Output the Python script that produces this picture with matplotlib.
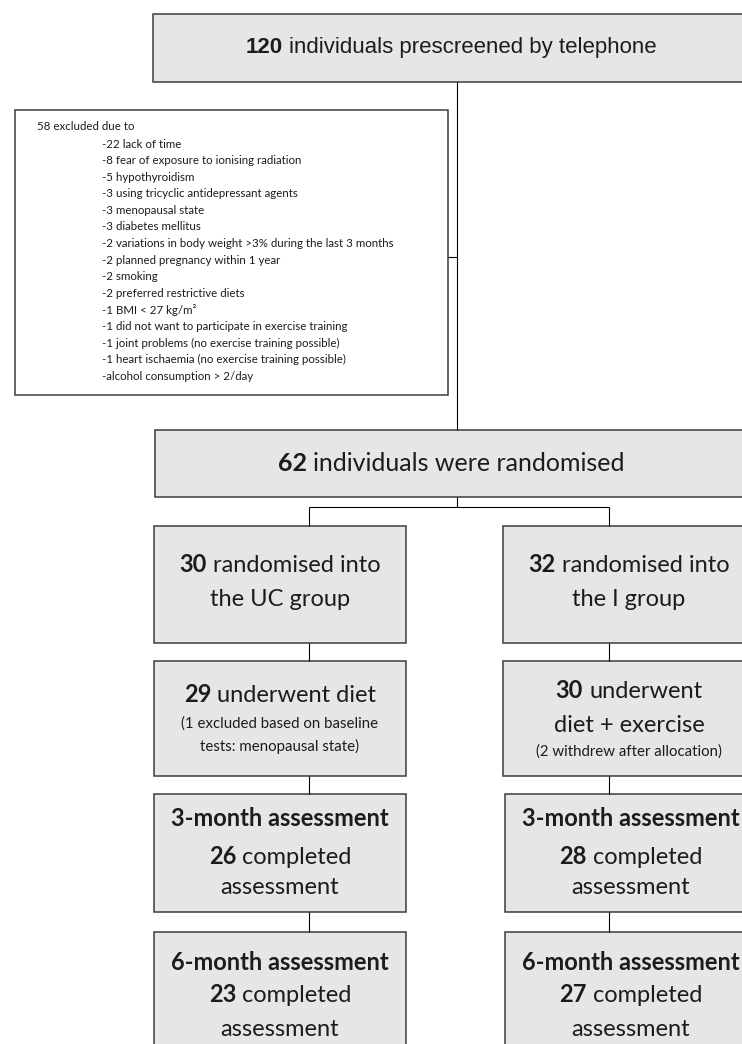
import matplotlib
matplotlib.use("Agg")
import matplotlib.pyplot as plt
from matplotlib.patches import Rectangle

# numbers from the flow diagram
n_prescreened = 120
n_excluded = 58
exclusion_counts = [22, 8, 5, 3, 3, 3, 2, 2, 2, 2, 1, 1, 1, 1, None]
exclusion_reasons = ['lack of time', 'fear of exposure to ionising radiation',
                     'hypothyroidism', 'using tricyclic antidepressant agents',
                     'menopausal state', 'diabetes mellitus',
                     'variations in body weight >3% during the last 3 months',
                     'planned pregnancy within 1 year', 'smoking',
                     'preferred restrictive diets', 'BMI < 27 kg/m²',
                     'did not want to participate in exercise training',
                     'joint problems (no exercise training possible)',
                     'heart ischaemia (no exercise training possible)',
                     'alcohol consumption > 2/day']
n_randomised = 62
groups = ['UC', 'I']
n_allocated = [30, 32]
n_started = [29, 30]
started_notes = [['(1 excluded based on baseline', 'tests: menopausal state)'],
                 ['(2 withdrew after allocation)']]
n_3month = [26, 28]
n_6month = [23, 27]

W, H = 742, 1044
fig = plt.figure(figsize=(W / 100, H / 100), dpi=100)
ax = fig.add_axes([0, 0, 1, 1])
ax.set_xlim(0, W)
ax.set_ylim(H, 0)
ax.axis('off')
rend = fig.canvas.get_renderer()

FILL = '#e6e6e6'
EDGE = '#3c3c3c'
TXT = '#1c1c1c'
CAL = ['Lato', 'DejaVu Sans']
ARI = ['Liberation Sans', 'DejaVu Sans']


def box(x0, y0, x1, y1, fc=FILL):
    ax.add_patch(Rectangle((x0, y0), x1 - x0, y1 - y0, fc=fc, ec=EDGE, lw=1.1))


def line(xs, ys):
    ax.plot(xs, ys, color='black', lw=0.8, solid_capstyle='butt')


def width(s, **kw):
    t = ax.text(0, 0, s, **kw)
    w = t.get_window_extent(rend).width
    t.remove()
    return w


def mixed(xc, y, bold, rest, size, family=CAL):
    # one centred line: bold number followed by regular text
    kw = dict(fontsize=size, family=family, color=TXT, va='baseline', ha='left')
    yb = y + 0.36 * size * 100 / 72
    wb = width(bold, fontweight='bold', **kw) if bold else 0
    wr = width(rest, **kw) if rest else 0
    gap = width('a a', **kw) - width('aa', **kw) if bold and rest else 0
    x = xc - (wb + gap + wr) / 2
    if bold:
        ax.text(x, yb, bold, fontweight='bold', **kw)
    if rest:
        ax.text(x + wb + gap, yb, rest, **kw)


BIG = 17
SMALL = 10.8
EXCL = 8.3

# top box
box(152.5, 14, 752, 82)
mixed(451, 45, str(n_prescreened), 'individuals prescreened by telephone', 16, ARI)

# exclusion box
box(15, 110, 448, 395, fc='white')
ax.text(37, 127, f'{n_excluded} excluded due to', fontsize=EXCL, family=CAL,
        color=TXT, va='center')
for i, (c, r) in enumerate(zip(exclusion_counts, exclusion_reasons)):
    s = f'-{c} {r}' if c is not None else f'-{r}'
    ax.text(102, 144 + i * 16.6, s, fontsize=EXCL, family=CAL, color=TXT, va='center')

line([457, 457], [82, 430])
line([448, 457], [257, 257])

# randomised
box(155, 430, 750, 497)
mixed(451, 462, str(n_randomised), 'individuals were randomised', 18)
line([457, 457], [497, 507])
line([309, 609], [507, 507])

cols = [(154, 406, 309, 280), (503, 753, 609, 629)]
for g, (x0, x1, xl, xc) in enumerate(cols):
    line([xl, xl], [507, 526])
    box(x0, 526, x1, 643)
    mixed(xc, 563, str(n_allocated[g]), 'randomised into', BIG)
    mixed(xc, 597, '', f'the {groups[g]} group', BIG)

    line([xl, xl], [643, 661])
    box(x0, 661, x1, 776)
    if g == 0:
        mixed(xc, 694, str(n_started[g]), 'underwent diet', BIG)
        for k, s in enumerate(started_notes[g]):
            mixed(xc, 722 + k * 24, '', s, SMALL)
    else:
        mixed(xc, 689, str(n_started[g]), 'underwent', BIG)
        mixed(xc, 723, '', 'diet + exercise', BIG)
        mixed(xc, 750, '', started_notes[g][0], SMALL)

    dx = 0 if g == 0 else 2
    line([xl, xl], [776, 794])
    box(x0 + dx, 794, x1 + dx, 912)
    mixed(xc + dx, 818, '3-month assessment', '', BIG)
    mixed(xc + dx, 855, str(n_3month[g]), 'completed', BIG)
    mixed(xc + dx, 885, '', 'assessment', BIG)

    line([xl, xl], [912, 932])
    box(x0 + dx, 932, x1 + dx, 1060)
    mixed(xc + dx, 962, '6-month assessment', '', BIG)
    mixed(xc + dx, 993, str(n_6month[g]), 'completed', BIG)
    mixed(xc + dx, 1027, '', 'assessment', BIG)

fig.savefig('out.png', dpi=100)
